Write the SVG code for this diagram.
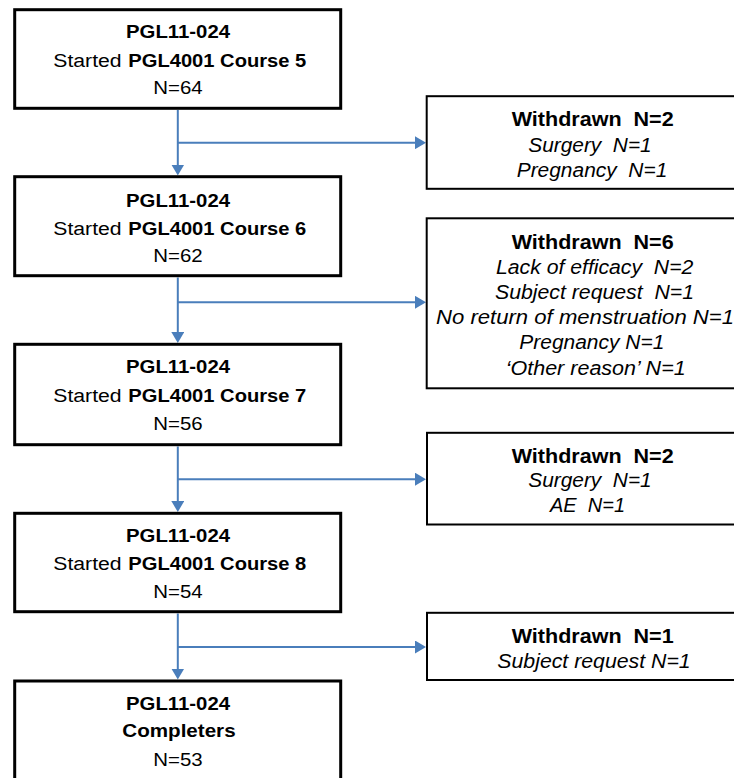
<svg xmlns="http://www.w3.org/2000/svg" width="734" height="778" viewBox="0 0 734 778">
  <defs>
    <marker id="arrow" viewBox="0 0 11 13" refX="5" refY="6.5" markerWidth="11" markerHeight="13" markerUnits="userSpaceOnUse" orient="auto">
      <path d="M0,0 L11,6.5 L0,13 Z" fill="#4A7EBB"/>
    </marker>
  </defs>
  <style>
    text { font-family: "Liberation Sans", Arial, sans-serif; fill: #000; white-space: pre; }
    .main { fill: #fff; stroke: #000; stroke-width: 3; }
    .side { fill: #fff; stroke: #000; stroke-width: 2; }
    .l { font-size: 18px; }
    .r { font-size: 19.5px; }
    .b { font-weight: bold; }
    .i { font-style: italic; }
    .conn { fill: none; stroke: #4A7EBB; stroke-width: 2; }
  </style>
  <rect width="734" height="778" fill="#fff"/>

  <g id="connectors">
    <path class="conn" d="M177.8,110 V169.5" marker-end="url(#arrow)"/>
    <path class="conn" d="M177.8,142.7 H420" marker-end="url(#arrow)"/>
    <path class="conn" d="M177.8,277.5 V337" marker-end="url(#arrow)"/>
    <path class="conn" d="M177.8,302.3 H420" marker-end="url(#arrow)"/>
    <path class="conn" d="M177.8,446.5 V506" marker-end="url(#arrow)"/>
    <path class="conn" d="M177.8,479.2 H420" marker-end="url(#arrow)"/>
    <path class="conn" d="M177.8,613.5 V673.5" marker-end="url(#arrow)"/>
    <path class="conn" d="M177.8,647 H420" marker-end="url(#arrow)"/>
  </g>

  <g id="course5">
    <rect class="main" x="14.7" y="9.7" width="326" height="98.6"/>
    <text class="l b" x="126" y="38.3" textLength="104" lengthAdjust="spacingAndGlyphs">PGL11-024</text>
    <text class="l" x="53.3" y="66.7" textLength="68.3" lengthAdjust="spacingAndGlyphs">Started</text>
    <text class="l b" x="128.3" y="66.7" textLength="178" lengthAdjust="spacingAndGlyphs">PGL4001 Course 5</text>
    <text class="l" x="153.3" y="94.3" textLength="49.4" lengthAdjust="spacingAndGlyphs">N=64</text>
  </g>

  <g id="course6">
    <rect class="main" x="14.7" y="176.7" width="326" height="99"/>
    <text class="l b" x="126" y="207.3" textLength="104" lengthAdjust="spacingAndGlyphs">PGL11-024</text>
    <text class="l" x="53.3" y="235" textLength="68.3" lengthAdjust="spacingAndGlyphs">Started</text>
    <text class="l b" x="128.3" y="235" textLength="178" lengthAdjust="spacingAndGlyphs">PGL4001 Course 6</text>
    <text class="l" x="153.3" y="261.7" textLength="49.4" lengthAdjust="spacingAndGlyphs">N=62</text>
  </g>

  <g id="course7">
    <rect class="main" x="14.7" y="344.3" width="326" height="100.4"/>
    <text class="l b" x="126" y="373.3" textLength="104" lengthAdjust="spacingAndGlyphs">PGL11-024</text>
    <text class="l" x="53.3" y="401.7" textLength="68.3" lengthAdjust="spacingAndGlyphs">Started</text>
    <text class="l b" x="128.3" y="401.7" textLength="178" lengthAdjust="spacingAndGlyphs">PGL4001 Course 7</text>
    <text class="l" x="153.3" y="430" textLength="49.4" lengthAdjust="spacingAndGlyphs">N=56</text>
  </g>

  <g id="course8">
    <rect class="main" x="14.7" y="513.3" width="326" height="98.4"/>
    <text class="l b" x="126" y="541.7" textLength="104" lengthAdjust="spacingAndGlyphs">PGL11-024</text>
    <text class="l" x="53.3" y="570" textLength="68.3" lengthAdjust="spacingAndGlyphs">Started</text>
    <text class="l b" x="128.3" y="570" textLength="178" lengthAdjust="spacingAndGlyphs">PGL4001 Course 8</text>
    <text class="l" x="153.3" y="598.3" textLength="49.4" lengthAdjust="spacingAndGlyphs">N=54</text>
  </g>

  <g id="completers">
    <rect class="main" x="14.7" y="681" width="326" height="100"/>
    <text class="l b" x="126" y="710" textLength="104" lengthAdjust="spacingAndGlyphs">PGL11-024</text>
    <text class="l b" x="122.3" y="737.3" textLength="113.3" lengthAdjust="spacingAndGlyphs">Completers</text>
    <text class="l" x="153.3" y="765.7" textLength="49.4" lengthAdjust="spacingAndGlyphs">N=53</text>
  </g>

  <g id="withdrawn1">
    <rect class="side" x="426.7" y="96.2" width="333" height="92.6"/>
    <text class="r b" x="511.7" y="126" textLength="162" lengthAdjust="spacingAndGlyphs">Withdrawn  N=2</text>
    <text class="r i" x="528.3" y="151.7" textLength="123.4" lengthAdjust="spacingAndGlyphs">Surgery  N=1</text>
    <text class="r i" x="516.7" y="176.7" textLength="150.6" lengthAdjust="spacingAndGlyphs">Pregnancy  N=1</text>
  </g>

  <g id="withdrawn2">
    <rect class="side" x="426.7" y="218.3" width="333" height="170"/>
    <text class="r b" x="511.7" y="249.3" textLength="162" lengthAdjust="spacingAndGlyphs">Withdrawn  N=6</text>
    <text class="r i" x="496" y="274" textLength="197.3" lengthAdjust="spacingAndGlyphs">Lack of efficacy  N=2</text>
    <text class="r i" x="495" y="299.3" textLength="199" lengthAdjust="spacingAndGlyphs">Subject request  N=1</text>
    <text class="r i" x="436" y="324" textLength="298" lengthAdjust="spacingAndGlyphs">No return of menstruation N=1</text>
    <text class="r i" x="519.3" y="349" textLength="145" lengthAdjust="spacingAndGlyphs">Pregnancy N=1</text>
    <text class="r i" x="505.7" y="375" textLength="180" lengthAdjust="spacingAndGlyphs">‘Other reason’ N=1</text>
  </g>

  <g id="withdrawn3">
    <rect class="side" x="427" y="432.8" width="333" height="91.7"/>
    <text class="r b" x="511.7" y="462.7" textLength="162" lengthAdjust="spacingAndGlyphs">Withdrawn  N=2</text>
    <text class="r i" x="528.3" y="486.7" textLength="123.4" lengthAdjust="spacingAndGlyphs">Surgery  N=1</text>
    <text class="r i" x="550" y="511.7" textLength="75" lengthAdjust="spacingAndGlyphs">AE  N=1</text>
  </g>

  <g id="withdrawn4">
    <rect class="side" x="427" y="612.8" width="333" height="67.2"/>
    <text class="r b" x="511.7" y="642.7" textLength="162" lengthAdjust="spacingAndGlyphs">Withdrawn  N=1</text>
    <text class="r i" x="497.3" y="668.3" textLength="193.4" lengthAdjust="spacingAndGlyphs">Subject request N=1</text>
  </g>
</svg>
